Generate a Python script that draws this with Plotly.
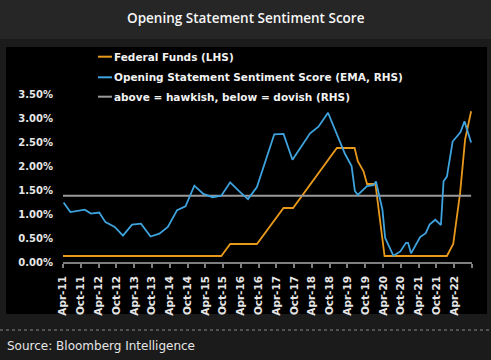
import plotly.graph_objects as go

# ---------------- data ----------------
ff_dates = ["2011-04-01", "2015-09-13", "2015-12-13", "2016-09-13", "2017-06-13",
            "2017-09-19", "2018-12-13", "2019-06-13", "2019-07-16", "2019-09-13",
            "2019-10-19", "2020-01-13", "2020-04-16", "2022-01-16", "2022-03-22",
            "2022-06-01", "2022-07-22", "2022-09-22"]
ff_values = [0.125, 0.125, 0.375, 0.375, 1.125, 1.125, 2.375, 2.375, 2.10, 1.89,
             1.625, 1.625, 0.125, 0.125, 0.375, 1.44, 2.55, 3.14]

sent_dates = ["2011-04-07", "2011-06-16", "2011-11-10", "2012-01-13", "2012-04-07",
              "2012-06-10", "2012-09-13", "2012-12-07", "2013-03-10", "2013-06-10",
              "2013-09-16", "2013-12-16", "2014-03-13", "2014-06-16", "2014-09-10",
              "2014-12-10", "2015-03-13", "2015-06-16", "2015-09-13", "2015-12-13",
              "2016-03-16", "2016-06-13", "2016-09-13", "2016-12-10", "2017-03-10",
              "2017-06-13", "2017-09-13", "2018-03-13", "2018-06-07", "2018-09-13",
              "2018-12-19", "2019-03-07", "2019-05-13", "2019-06-16", "2019-07-16",
              "2019-10-19", "2019-12-25", "2020-01-19", "2020-03-25", "2020-04-22",
              "2020-07-16", "2020-09-25", "2020-11-22", "2020-12-13", "2021-01-13",
              "2021-04-16", "2021-06-13", "2021-07-22", "2021-09-19", "2021-11-16",
              "2021-12-13", "2022-01-16", "2022-03-16", "2022-06-04", "2022-07-16",
              "2022-09-22"]
sent_values = [1.24, 1.04, 1.09, 1.01, 1.03, 0.83, 0.73, 0.55, 0.78, 0.80,
               0.53, 0.59, 0.73, 1.08, 1.16, 1.59, 1.42, 1.35, 1.38, 1.66,
               1.47, 1.31, 1.56, 2.10, 2.66, 2.67, 2.13, 2.68, 2.82, 3.11,
               2.62, 2.25, 2.00, 1.48, 1.40, 1.58, 1.60, 1.68, 1.09, 0.50,
               0.13, 0.22, 0.40, 0.40, 0.18, 0.52, 0.60, 0.78, 0.88, 0.77,
               1.68, 1.78, 2.51, 2.70, 2.93, 2.49]

neutral_dates = ["2011-04-01", "2022-09-22"]
neutral_values = [1.38, 1.38]

series_names = ["Federal Funds (LHS)",
                "Opening Statement Sentiment Score (EMA, RHS)",
                "above = hawkish, below = dovish (RHS)"]
series_colors = ["#E8991C", "#3FA3DE", "#9A9A9A"]

tick_dates = ["2011-04-01", "2011-10-01", "2012-04-01", "2012-10-01", "2013-04-01",
              "2013-10-01", "2014-04-01", "2014-10-01", "2015-04-01", "2015-10-01",
              "2016-04-01", "2016-10-01", "2017-04-01", "2017-10-01", "2018-04-01",
              "2018-10-01", "2019-04-01", "2019-10-01", "2020-04-01", "2020-10-01",
              "2021-04-01", "2021-10-01", "2022-04-01", "2022-10-01"]
tick_labels = ["Apr-11", "Oct-11", "Apr-12", "Oct-12", "Apr-13", "Oct-13", "Apr-14",
               "Oct-14", "Apr-15", "Oct-15", "Apr-16", "Oct-16", "Apr-17", "Oct-17",
               "Apr-18", "Oct-18", "Apr-19", "Oct-19", "Apr-20", "Oct-20", "Apr-21",
               "Oct-21", "Apr-22", ""]
y_ticks = [0.0, 0.5, 1.0, 1.5, 2.0, 2.5, 3.0, 3.5]
y_tick_labels = ["0.00%", "0.50%", "1.00%", "1.50%", "2.00%", "2.50%", "3.00%", "3.50%"]

title_text = "Opening Statement Sentiment Score"
source_text = "Source: Bloomberg Intelligence"

# ---------------- layout geometry ----------------
WIDTH, HEIGHT = 491, 360
L, R, T, B = 63, 19, 70, 98
PW, PH = WIDTH - L - R, HEIGHT - T - B


def px(x):
    return (x - L) / PW


def py(y):
    return (HEIGHT - B - y) / PH


fig = go.Figure()
fig.add_trace(go.Scatter(x=neutral_dates, y=neutral_values, mode="lines",
                         line=dict(color=series_colors[2], width=2),
                         name=series_names[2], yaxis="y2", showlegend=False))
fig.add_trace(go.Scatter(x=ff_dates, y=ff_values, mode="lines",
                         line=dict(color=series_colors[0], width=1.8),
                         name=series_names[0], showlegend=False))
fig.add_trace(go.Scatter(x=sent_dates, y=sent_values, mode="lines",
                         line=dict(color=series_colors[1], width=1.8),
                         name=series_names[1], yaxis="y2", showlegend=False))

shapes = [
    dict(type="rect", xref="paper", yref="paper", x0=px(0), x1=px(WIDTH),
         y0=py(39), y1=py(0), fillcolor="#262626", line=dict(width=0), layer="below"),
    dict(type="rect", xref="paper", yref="paper", x0=px(6), x1=px(487),
         y0=py(314), y1=py(47), fillcolor="#000000", line=dict(width=0), layer="below"),
    dict(type="line", xref="paper", yref="paper", x0=px(0), x1=px(WIDTH),
         y0=py(330), y1=py(330), line=dict(color="#8a8a8a", width=1, dash="dot")),
]
annotations = [
    dict(text=title_text, xref="paper", yref="paper", x=px(245.5), y=py(17.5),
         xanchor="center", yanchor="middle", showarrow=False,
         font=dict(family="Open Sans", size=13.5, color="#f6f6f6", weight=600)),
    dict(text=source_text, xref="paper", yref="paper", x=px(5), y=py(345.5),
         xanchor="left", yanchor="middle", showarrow=False,
         font=dict(family="DejaVu Sans", size=12, color="#e6e6e6")),
]
legend_y = [56.7, 77.3, 96.7]
for name, color, ly in zip(series_names, series_colors, legend_y):
    shapes.append(dict(type="line", xref="paper", yref="paper", x0=px(98), x1=px(112),
                       y0=py(ly), y1=py(ly), line=dict(color=color, width=2)))
    annotations.append(dict(text=name, xref="paper", yref="paper", x=px(111.5), y=py(ly),
                            xanchor="left", yanchor="middle", showarrow=False,
                            font=dict(family="DejaVu Sans", size=10.5, color="#f2f2f2",
                                      weight="bold")))

fig.update_layout(
    width=WIDTH, height=HEIGHT,
    margin=dict(l=L, r=R, t=T, b=B, pad=0),
    paper_bgcolor="#1b1b1b", plot_bgcolor="rgba(0,0,0,0)",
    showlegend=False, hovermode=False,
    shapes=shapes, annotations=annotations,
    xaxis=dict(type="date", range=["2011-04-01", "2022-10-01"],
               tickmode="array", tickvals=tick_dates, ticktext=tick_labels,
               tickangle=-90, showgrid=False, zeroline=False,
               showline=True, linecolor="#7f7f7f", linewidth=1.5,
               ticks="outside", ticklen=4, tickwidth=1.5, tickcolor="#7f7f7f",
               ticklabelstandoff=4,
               tickfont=dict(family="DejaVu Sans", size=10.5, color="#e6e6e6", weight="bold")),
    yaxis=dict(range=[0, 4.0], tickmode="array", tickvals=y_ticks, ticktext=y_tick_labels,
               showgrid=False, zeroline=False,
               showline=False, ticks="", ticklabelstandoff=9,
               tickfont=dict(family="DejaVu Sans", size=10, color="#e6e6e6", weight="bold")),
    yaxis2=dict(range=[0, 4.0], overlaying="y", side="right", visible=False,
                showgrid=False, zeroline=False),
)

fig.write_html("out.html", config={"displayModeBar": False},
               post_script="document.body.style.margin='0px';")
